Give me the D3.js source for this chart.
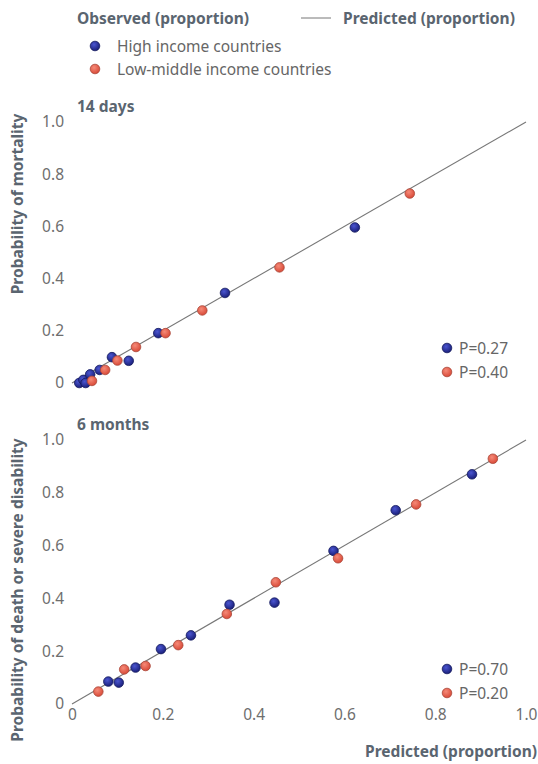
<!DOCTYPE html>
<html>
<head>
<meta charset="utf-8">
<script src="https://cdn.jsdelivr.net/npm/d3@7"></script>
<style>
  body { margin: 0; background: #fff; }
  text { font-family: "Noto Sans", "Open Sans", sans-serif; }
</style>
</head>
<body>
<script>
// observed vs predicted, 14 days
var day14HighX = [0.016, 0.025, 0.030, 0.040, 0.061, 0.088, 0.125, 0.190, 0.337, 0.623];
var day14HighY = [0.000, 0.012, 0.000, 0.033, 0.050, 0.099, 0.085, 0.191, 0.345, 0.596];
var day14LowX = [0.044, 0.073, 0.100, 0.141, 0.206, 0.287, 0.457, 0.744];
var day14LowY = [0.008, 0.050, 0.086, 0.138, 0.191, 0.278, 0.443, 0.726];

// 6 months
var month6HighX = [0.080, 0.103, 0.140, 0.196, 0.262, 0.347, 0.446, 0.576, 0.713, 0.881];
var month6HighY = [0.085, 0.081, 0.138, 0.208, 0.260, 0.376, 0.384, 0.580, 0.734, 0.870];
var month6LowX = [0.058, 0.115, 0.162, 0.234, 0.341, 0.449, 0.586, 0.758, 0.927];
var month6LowY = [0.047, 0.131, 0.144, 0.223, 0.341, 0.461, 0.552, 0.756, 0.929];

var tickValues = [0, 0.2, 0.4, 0.6, 0.8, 1.0];
var tickLabels = ["0", "0.2", "0.4", "0.6", "0.8", "1.0"];
var pDay14 = ["P=0.27", "P=0.40"];
var pMonth6 = ["P=0.70", "P=0.20"];

var w = 538, h = 764;
var svg = d3.select("body").append("svg").attr("width", w).attr("height", h);

var titleCol = "#5a6570";
var tickCol = "#6e6e6e";
var boldSize = 15.5, textSize = 15.5;

// shaded balls
var defs = svg.append("defs");
function ball(id, c1, c2) {
  var g = defs.append("radialGradient").attr("id", id)
    .attr("cx", "40%").attr("cy", "35%").attr("r", "65%");
  g.append("stop").attr("offset", "0%").attr("stop-color", c1);
  g.append("stop").attr("offset", "100%").attr("stop-color", c2);
}
ball("blueBall", "#4a55d0", "#1a1f7a");
ball("redBall", "#f58a78", "#d94a38");
var blueStroke = "#141a5e", redStroke = "#a8483a";

function dot(sel, x, y, cls) {
  sel.append("circle").attr("cx", x).attr("cy", y).attr("r", 4.8)
    .attr("fill", cls == "high" ? "url(#blueBall)" : "url(#redBall)")
    .attr("stroke", cls == "high" ? blueStroke : redStroke)
    .attr("stroke-width", 0.8);
}

// top legend
svg.append("text").attr("x", 77).attr("y", 24).text("Observed (proportion)")
  .attr("font-weight", "bold").attr("font-size", boldSize).attr("fill", titleCol);
svg.append("line").attr("x1", 301).attr("x2", 331).attr("y1", 18).attr("y2", 18)
  .attr("stroke", "#777").attr("stroke-width", 1);
svg.append("text").attr("x", 343).attr("y", 24).text("Predicted (proportion)")
  .attr("font-weight", "bold").attr("font-size", boldSize).attr("fill", titleCol);
dot(svg, 95, 46, "high");
dot(svg, 95, 69, "low");
svg.append("text").attr("x", 117).attr("y", 52).text("High income countries")
  .attr("font-size", textSize).attr("fill", "#666");
svg.append("text").attr("x", 117).attr("y", 75).text("Low-middle income countries")
  .attr("font-size", textSize).attr("fill", "#666");

var x = d3.scaleLinear().domain([0, 1]).range([72, 526]);

function panel(yTop, yBottom, title, yTitle, yTitleMid, hx, hy, lx, ly, pLabels, showX) {
  var y = d3.scaleLinear().domain([0, 1]).range([yBottom, yTop]);
  var g = svg.append("g");

  g.append("text").attr("x", 77).attr("y", yTop - 10).text(title)
    .attr("font-weight", "bold").attr("font-size", boldSize).attr("fill", titleCol);

  // y axis, labels only
  var yAxis = d3.axisLeft(y).tickValues(tickValues)
    .tickFormat(function (d, i) { return tickLabels[i]; })
    .tickSize(0).tickPadding(0);
  var ya = g.append("g").attr("transform", "translate(64,0)").call(yAxis);
  ya.select(".domain").remove();
  ya.selectAll("text").attr("font-size", textSize).attr("fill", tickCol)
    .style("font-family", "'Noto Sans', sans-serif");

  if (showX) {
    var xAxis = d3.axisBottom(x).tickValues(tickValues)
      .tickFormat(function (d, i) { return tickLabels[i]; })
      .tickSize(0).tickPadding(0);
    var xa = g.append("g").attr("transform", "translate(0," + (yBottom + 5) + ")").call(xAxis);
    xa.select(".domain").remove();
    xa.selectAll("text").attr("font-size", textSize).attr("fill", tickCol)
      .style("font-family", "'Noto Sans', sans-serif");
  }

  g.append("text")
    .attr("transform", "translate(23," + yTitleMid + ") rotate(-90)")
    .attr("text-anchor", "middle").text(yTitle)
    .attr("font-weight", "bold").attr("font-size", boldSize).attr("fill", titleCol);

  // predicted line
  g.append("line").attr("x1", x(0)).attr("y1", y(0)).attr("x2", x(1)).attr("y2", y(1))
    .attr("stroke", "#777").attr("stroke-width", 1.1);

  // observed points
  hx.forEach(function (v, i) { dot(g, x(v), y(hy[i]), "high"); });
  lx.forEach(function (v, i) { dot(g, x(v), y(ly[i]), "low"); });

  // p values
  var py = yBottom - 35;
  dot(g, 447, py, "high");
  dot(g, 447, py + 24, "low");
  g.append("text").attr("x", 459).attr("y", py + 6).text(pLabels[0])
    .attr("font-size", textSize).attr("fill", "#666");
  g.append("text").attr("x", 459).attr("y", py + 30).text(pLabels[1])
    .attr("font-size", textSize).attr("fill", "#666");
}

panel(122, 383, "14 days", "Probability of mortality", 204,
  day14HighX, day14HighY, day14LowX, day14LowY, pDay14, false);
panel(440, 704, "6 months", "Probability of death or severe disability", 590,
  month6HighX, month6HighY, month6LowX, month6LowY, pMonth6, true);

svg.append("text").attr("x", 537).attr("y", 757).attr("text-anchor", "end")
  .text("Predicted (proportion)")
  .attr("font-weight", "bold").attr("font-size", boldSize).attr("fill", titleCol);
</script>
</body>
</html>
